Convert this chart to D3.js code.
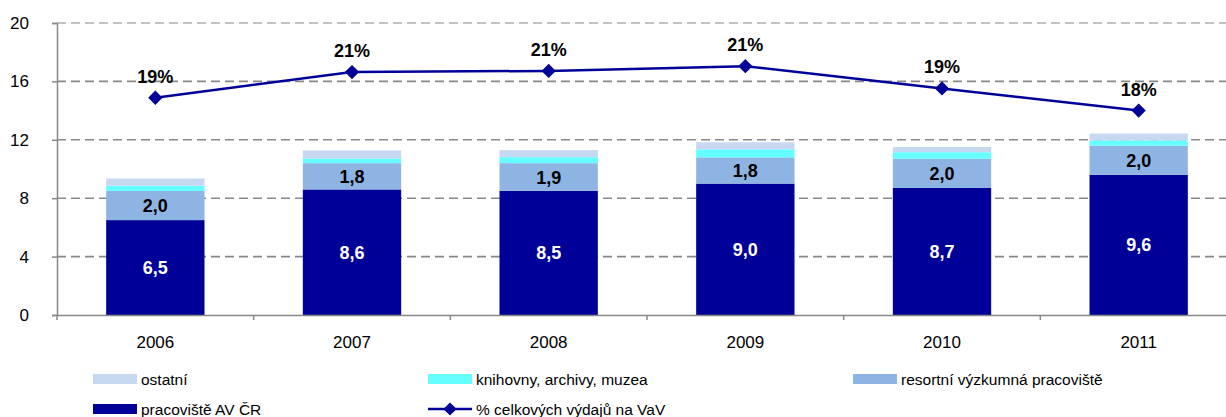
<!DOCTYPE html>
<html>
<head>
<meta charset="utf-8">
<script src="https://cdn.jsdelivr.net/npm/d3@7"></script>
<style>
  body { margin: 0; background: #fff; }
  svg { font-family: "Liberation Sans", Arial, sans-serif; }
</style>
</head>
<body>
<svg class="chart"></svg>
<script>
const size = {w: 1226, h: 417};

// chart data
const years = ['2006', '2007', '2008', '2009', '2010', '2011'];
const avCR = [6.5, 8.6, 8.5, 9.0, 8.7, 9.6];          // pracoviště AV ČR
const resortni = [2.0, 1.8, 1.9, 1.8, 2.0, 2.0];      // resortní výzkumná pracoviště
const knihovny = [0.35, 0.32, 0.41, 0.55, 0.45, 0.36]; // knihovny, archivy, muzea
const ostatni = [0.5, 0.55, 0.48, 0.48, 0.36, 0.47];   // ostatní
const podilVaV = [18.6, 20.8, 20.9, 21.3, 19.4, 17.5]; // % celkových výdajů na VaV
const yTicks = [0, 4, 8, 12, 16, 20];

const seriesKeys = ['av', 'resort', 'knih', 'ost'];
const colors = {av: '#000099', resort: '#8EB4E3', knih: '#66FFFF', ost: '#C6D9F1'};

const svg = d3.select('svg.chart')
    .attr('width', size.w)
    .attr('height', size.h);

const margin = {left: 57, top: 23, bottom: 315};
const plotRight = 1237; // plot area runs past the right edge in the original

let x = d3.scaleBand()
    .domain(years)
    .range([margin.left, plotRight])
    .paddingInner(0.5)
    .paddingOuter(0.25);

let xOuter = d3.scaleBand()
    .domain(years)
    .range([margin.left, plotRight]);

let y = d3.scaleLinear()
    .domain([0, 20])
    .range([margin.bottom, margin.top]);

// secondary (hidden) scale for the percentage line
let y2 = d3.scaleLinear()
    .domain([0, 25])
    .range([margin.bottom, margin.top]);

// gridlines
svg.append('g')
    .selectAll('line')
    .data(yTicks.filter(d => d > 0))
    .join('line')
    .attr('x1', margin.left)
    .attr('x2', plotRight)
    .attr('y1', d => y(d))
    .attr('y2', d => y(d))
    .attr('stroke', d => d === 20 ? '#b0b0b0' : '#888')
    .attr('stroke-width', 1.6)
    .attr('stroke-dasharray', '9,5');

// stacked data
let table = years.map((yr, i) => ({
    year: yr, av: avCR[i], resort: resortni[i], knih: knihovny[i], ost: ostatni[i]
}));
let stacked = d3.stack().keys(seriesKeys)(table);

svg.append('g')
    .selectAll('g')
    .data(stacked)
    .join('g')
    .attr('fill', d => colors[d.key])
    .selectAll('rect')
    .data(d => d)
    .join('rect')
    .attr('x', d => x(d.data.year))
    .attr('width', x.bandwidth())
    .attr('y', d => y(d[1]))
    .attr('height', d => y(d[0]) - y(d[1]));

// value labels
const fmt = v => d3.format('.1f')(v).replace('.', ',');

svg.append('g')
    .selectAll('text')
    .data(table)
    .join('text')
    .attr('x', d => x(d.year) + x.bandwidth() / 2)
    .attr('y', d => y(d.av / 2) + 6.5)
    .attr('text-anchor', 'middle')
    .attr('fill', '#fff')
    .attr('font-weight', 'bold')
    .attr('font-size', 18)
    .text(d => fmt(d.av));

svg.append('g')
    .selectAll('text')
    .data(table)
    .join('text')
    .attr('x', d => x(d.year) + x.bandwidth() / 2)
    .attr('y', d => y(d.av + d.resort / 2) + 6.5)
    .attr('text-anchor', 'middle')
    .attr('fill', '#000')
    .attr('font-weight', 'bold')
    .attr('font-size', 18)
    .text(d => fmt(d.resort));

// axes
let yAxis = d3.axisLeft(y).tickValues(yTicks).tickSize(5).tickPadding(23);
let yG = svg.append('g')
    .attr('transform', `translate(${margin.left},0)`)
    .call(yAxis);
yG.select('.domain').attr('stroke', '#888').attr('stroke-width', 1.5);
yG.selectAll('.tick line').attr('stroke', '#888').attr('stroke-width', 1.5);
yG.selectAll('.tick text')
    .attr('font-size', 17)
    .attr('fill', '#000')
    .attr('font-family', '"Liberation Sans", Arial, sans-serif');

let xAxis = d3.axisBottom(xOuter).tickSize(0).tickPadding(21);
let xG = svg.append('g')
    .attr('transform', `translate(0,${margin.bottom})`)
    .call(xAxis);
xG.select('.domain').attr('stroke', '#888').attr('stroke-width', 1.5);
xG.selectAll('.tick text')
    .attr('font-size', 17)
    .attr('fill', '#000')
    .attr('font-family', '"Liberation Sans", Arial, sans-serif');

// tick marks between categories
xG.append('g')
    .selectAll('line')
    .data(years)
    .join('line')
    .attr('x1', d => xOuter(d))
    .attr('x2', d => xOuter(d))
    .attr('y1', 0)
    .attr('y2', 5)
    .attr('stroke', '#888')
    .attr('stroke-width', 1.5);

// percentage line
let line = d3.line()
    .x((d, i) => x(years[i]) + x.bandwidth() / 2)
    .y(d => y2(d));

svg.append('path')
    .datum(podilVaV)
    .attr('d', line)
    .attr('fill', 'none')
    .attr('stroke', '#000099')
    .attr('stroke-width', 2.5);

svg.append('g')
    .selectAll('path')
    .data(podilVaV)
    .join('path')
    .attr('d', d3.symbol(d3.symbolDiamond2, 130))
    .attr('transform', (d, i) => `translate(${x(years[i]) + x.bandwidth() / 2},${y2(d)})`)
    .attr('fill', '#000099');

svg.append('g')
    .selectAll('text')
    .data(podilVaV)
    .join('text')
    .attr('x', (d, i) => x(years[i]) + x.bandwidth() / 2)
    .attr('y', d => y2(d) - 15)
    .attr('text-anchor', 'middle')
    .attr('font-weight', 'bold')
    .attr('font-size', 18)
    .text(d => Math.round(d) + '%');

// legend
const legendItems = [
    {label: 'ostatní', key: 'ost', x: 93, y: 379},
    {label: 'knihovny, archivy, muzea', key: 'knih', x: 428, y: 379},
    {label: 'resortní výzkumná pracoviště', key: 'resort', x: 853, y: 379},
    {label: 'pracoviště AV ČR', key: 'av', x: 93, y: 409},
    {label: '% celkových výdajů na VaV', key: 'line', x: 428, y: 409}
];

let legend = svg.append('g')
    .selectAll('g')
    .data(legendItems)
    .join('g')
    .attr('transform', d => `translate(${d.x},${d.y})`);

legend.filter(d => d.key !== 'line')
    .append('rect')
    .attr('x', 0)
    .attr('y', -5)
    .attr('width', 44)
    .attr('height', 10)
    .attr('fill', d => colors[d.key]);

let lineLegend = legend.filter(d => d.key === 'line');
lineLegend.append('line')
    .attr('x1', 0).attr('x2', 44)
    .attr('y1', 0).attr('y2', 0)
    .attr('stroke', '#000099')
    .attr('stroke-width', 2.5);
lineLegend.append('path')
    .attr('d', d3.symbol(d3.symbolDiamond2, 110))
    .attr('transform', 'translate(22,0)')
    .attr('fill', '#000099');

legend.append('text')
    .attr('x', 48)
    .attr('y', 6)
    .attr('font-size', 15.5)
    .text(d => d.label);
</script>
</body>
</html>
